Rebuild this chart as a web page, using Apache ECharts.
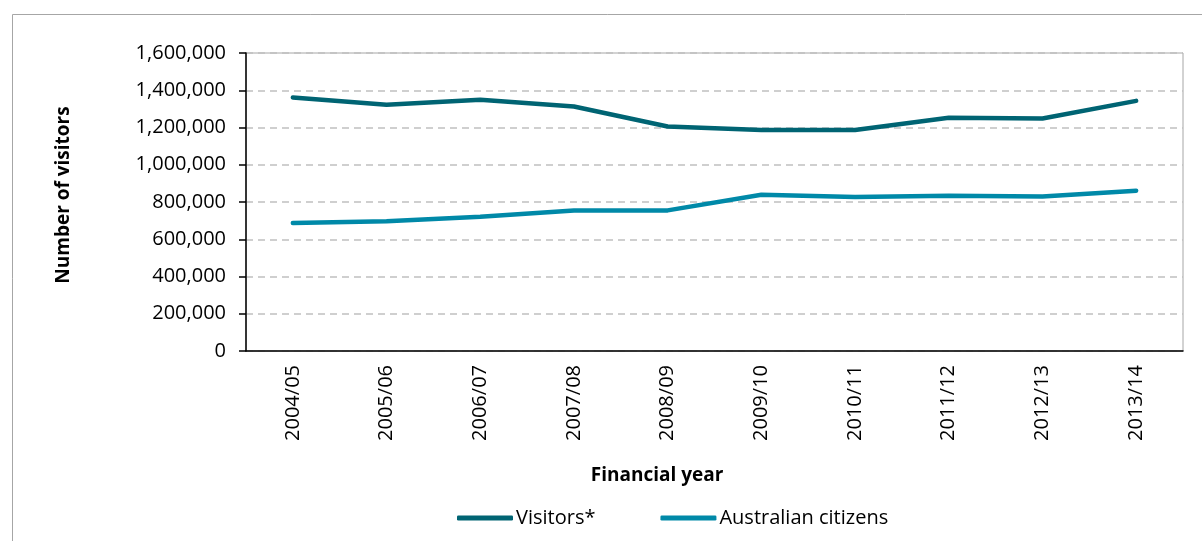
<!DOCTYPE html>
<html>
<head>
<meta charset="utf-8">
<script src="https://cdn.jsdelivr.net/npm/echarts@6/dist/echarts.min.js"></script>
<style>
  html, body { margin: 0; padding: 0; background: #fff; }
  #chart { width: 1202px; height: 541px; }
</style>
</head>
<body>
<div id="chart"></div>
<script>
const years = ['2004/05', '2005/06', '2006/07', '2007/08', '2008/09', '2009/10', '2010/11', '2011/12', '2012/13', '2013/14'];
const visitors = [1361000, 1322000, 1349000, 1313000, 1205000, 1187000, 1187000, 1252000, 1248000, 1343000];
const australianCitizens = [687000, 696000, 721000, 755000, 755000, 839000, 827000, 834000, 830000, 861000];

const chart = echarts.init(document.getElementById('chart'));
const font = '"Open Sans", sans-serif';

chart.setOption({
    backgroundColor: '#fff',
    animation: false,
    textStyle: { fontFamily: font },
    graphic: [{
        type: 'rect', left: 10, top: 12,
        shape: { width: 1200, height: 540 },
        style: { fill: 'none', stroke: '#a6a6a6', lineWidth: 1 },
        silent: true
    }, {
        // axis titles are not centred on the plot in the original
        type: 'text', x: 657, y: 476,
        style: {
            text: 'Financial year', fill: '#000', font: 'bold 19px "Open Sans", sans-serif',
            align: 'center', verticalAlign: 'middle'
        }
    }, {
        type: 'text', x: 64, y: 195, rotation: Math.PI / 2,
        style: {
            text: 'Number of visitors', fill: '#000', font: 'bold 19px "Open Sans", sans-serif',
            align: 'center', verticalAlign: 'middle'
        }
    }],
    grid: { left: 246, right: 19, top: 53, bottom: 190, show: true, borderColor: '#a6a6a6', borderWidth: 1 },
    legend: {
        left: 452, top: 503,
        itemWidth: 56, itemHeight: 5, itemGap: 65,
        icon: 'roundRect',
        textStyle: { fontSize: 20, color: '#000', fontFamily: font, padding: [0, 0, 0, -2] },
        data: ['Visitors*', 'Australian citizens']
    },
    xAxis: {
        type: 'category', data: years, boundaryGap: true,
        axisLine: { lineStyle: { color: '#000', width: 1.5 } },
        axisTick: { show: false },
        axisLabel: { rotate: 90, margin: 14, fontSize: 20, color: '#000', fontFamily: font }
    },
    yAxis: {
        type: 'value', min: 0, max: 1600000, interval: 200000,
        axisLine: { show: true, lineStyle: { color: '#000', width: 1.5 } },
        axisTick: { show: true, length: 7, lineStyle: { color: '#000', width: 1.5 } },
        axisLabel: {
            margin: 20, fontSize: 20, color: '#000', fontFamily: font,
            formatter: v => v.toLocaleString('en-US')
        },
        splitLine: { lineStyle: { color: '#c0c0c0', width: 1.5, type: [7, 5] } }
    },
    series: [
        {
            name: 'Visitors*', type: 'line', data: visitors,
            showSymbol: false, symbol: 'none',
            lineStyle: { width: 4.5, color: '#006473', cap: 'round' },
            itemStyle: { color: '#006473' }
        },
        {
            name: 'Australian citizens', type: 'line', data: australianCitizens,
            showSymbol: false, symbol: 'none',
            lineStyle: { width: 4.5, color: '#0089a8', cap: 'round' },
            itemStyle: { color: '#0089a8' }
        }
    ]
});
</script>
</body>
</html>
